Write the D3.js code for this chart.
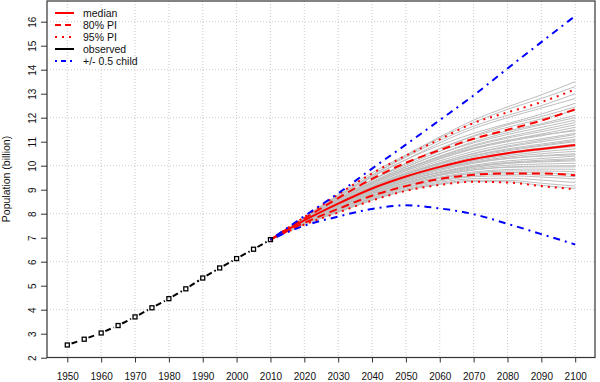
<!DOCTYPE html>
<html><head><meta charset="utf-8">
<script src="https://cdn.jsdelivr.net/npm/d3@7"></script>
<style>html,body{margin:0;padding:0;background:#fff}svg{display:block;font-family:"Liberation Sans",Arial,sans-serif}</style>
</head><body><svg id="c" width="600" height="382"></svg>
<script>
// ---- data ----
const obsYears = [1950,1955,1960,1965,1970,1975,1980,1985,1990,1995,2000,2005,2010];
const observed = [2.53,2.77,3.03,3.34,3.70,4.08,4.46,4.87,5.32,5.74,6.13,6.52,6.92];
const projYears = [2010,2020,2030,2040,2050,2060,2070,2080,2090,2100];
const median  = [6.92,7.72,8.42,9.05,9.55,9.95,10.28,10.52,10.70,10.86];
const pi80up  = [6.92,7.80,8.65,9.45,10.12,10.65,11.12,11.50,11.88,12.35];
const pi80lo  = [6.92,7.62,8.20,8.75,9.15,9.45,9.62,9.68,9.68,9.60];
const pi95up  = [6.92,7.86,8.80,9.68,10.42,11.10,11.78,12.22,12.65,13.18];
const pi95lo  = [6.92,7.55,8.05,8.55,8.95,9.20,9.33,9.30,9.15,9.02];
const childHigh = [6.92,7.90,8.85,9.88,10.88,11.90,12.93,14.05,15.15,16.24];
const childLow  = [6.92,7.50,7.88,8.20,8.35,8.22,7.98,7.58,7.15,6.72];
const trajStart = 6.92;
// grey trajectories, values for 2020..2100
const trajectories = [
 [7.86,8.80,9.70,10.45,11.20,11.90,12.45,12.95,13.50],
 [7.83,8.75,9.62,10.40,11.15,11.80,12.35,12.80,13.30],
 [7.85,8.74,9.60,10.35,11.05,11.65,12.10,12.50,13.00],
 [7.80,8.68,9.52,10.25,10.95,11.55,12.00,12.40,12.80],
 [7.83,8.70,9.55,10.25,10.85,11.35,11.75,12.15,12.60],
 [7.80,8.62,9.42,10.10,10.72,11.25,11.70,12.05,12.45],
 [7.79,8.60,9.40,10.08,10.70,11.22,11.60,11.95,12.30],
 [7.80,8.63,9.40,10.02,10.60,11.10,11.45,11.75,12.10],
 [7.77,8.57,9.33,9.95,10.50,11.00,11.38,11.70,12.00],
 [7.78,8.58,9.32,9.95,10.50,10.95,11.30,11.60,11.90],
 [7.76,8.54,9.28,9.88,10.40,10.86,11.20,11.50,11.80],
 [7.77,8.55,9.28,9.86,10.38,10.82,11.15,11.42,11.70],
 [7.75,8.52,9.22,9.80,10.30,10.72,11.05,11.32,11.60],
 [7.76,8.52,9.22,9.78,10.28,10.70,11.00,11.25,11.50],
 [7.77,8.55,9.27,9.85,10.35,10.75,11.05,11.28,11.45],
 [7.74,8.48,9.16,9.72,10.20,10.60,10.90,11.12,11.35],
 [7.73,8.46,9.12,9.66,10.12,10.52,10.82,11.06,11.30],
 [7.75,8.48,9.15,9.68,10.12,10.50,10.78,11.00,11.20],
 [7.72,8.44,9.10,9.62,10.06,10.43,10.70,10.90,11.10],
 [7.74,8.47,9.12,9.65,10.08,10.42,10.66,10.85,11.05],
 [7.71,8.42,9.06,9.58,10.00,10.36,10.62,10.82,11.00],
 [7.73,8.43,9.07,9.57,9.98,10.30,10.55,10.74,10.90],
 [7.71,8.40,9.02,9.52,9.92,10.24,10.48,10.66,10.80],
 [7.70,8.39,9.00,9.50,9.90,10.20,10.42,10.58,10.70],
 [7.69,8.36,8.97,9.46,9.85,10.15,10.36,10.50,10.60],
 [7.68,8.34,8.94,9.42,9.80,10.10,10.30,10.42,10.50],
 [7.70,8.38,8.99,9.48,9.86,10.14,10.30,10.40,10.45],
 [7.67,8.32,8.91,9.38,9.74,10.02,10.20,10.30,10.40],
 [7.67,8.31,8.89,9.36,9.72,9.98,10.14,10.23,10.30],
 [7.65,8.28,8.85,9.30,9.66,9.93,10.10,10.18,10.25],
 [7.68,8.33,8.92,9.38,9.72,9.96,10.10,10.16,10.20],
 [7.65,8.27,8.84,9.30,9.64,9.88,10.02,10.07,10.10],
 [7.64,8.25,8.81,9.26,9.60,9.83,9.95,9.98,10.00],
 [7.66,8.28,8.84,9.28,9.60,9.82,9.93,9.95,9.95],
 [7.62,8.21,8.76,9.21,9.53,9.74,9.84,9.86,9.85],
 [7.61,8.19,8.73,9.17,9.49,9.69,9.78,9.78,9.75],
 [7.63,8.20,8.74,9.17,9.48,9.66,9.72,9.70,9.65],
 [7.59,8.15,8.68,9.11,9.41,9.59,9.65,9.61,9.55],
 [7.58,8.13,8.65,9.08,9.37,9.54,9.58,9.53,9.45],
 [7.57,8.10,8.62,9.03,9.31,9.46,9.48,9.40,9.30],
 [7.56,8.07,8.58,8.99,9.26,9.39,9.39,9.27,9.15],
 [7.55,8.06,8.56,8.96,9.22,9.34,9.33,9.18,9.05]
];
const xTicks = d3.range(1950, 2101, 10);
const yTicks = d3.range(2, 17, 1);
const yGrid = [4,6,8,10,12,14,16];
const legendLabels = ["median","80% PI","95% PI","observed","+/- 0.5 child"];

// ---- drawing ----
const svg = d3.select("#c");
const box = {l:47, r:595, t:1, b:357.5};
const x = d3.scaleLinear().domain([1950,2100]).range([67.3,575.2]);
const y = d3.scaleLinear().domain([2,16]).range([357.7,21.7]);
const gridCol = "#c9c9d0";

// grid
svg.append("g").selectAll("line").data(xTicks).join("line")
  .attr("x1",d=>x(d)).attr("x2",d=>x(d)).attr("y1",box.t).attr("y2",box.b)
  .attr("stroke",gridCol).attr("stroke-dasharray","1,2");
svg.append("g").selectAll("line").data(yGrid).join("line")
  .attr("x1",box.l).attr("x2",box.r).attr("y1",d=>y(d)).attr("y2",d=>y(d))
  .attr("stroke",gridCol).attr("stroke-dasharray","1,2");

const line = d3.line().x(d=>x(d[0])).y(d=>y(d[1])).curve(d3.curveMonotoneX);
const pts = vals => projYears.map((yr,i)=>[yr, vals[i]]);

// grey trajectories
svg.append("g").selectAll("path").data(trajectories).join("path")
  .attr("d", t => line(pts([trajStart].concat(t))))
  .attr("fill","none").attr("stroke","#bebebe").attr("stroke-width",1);

// red PI and median
const red = "#ff0000", blue = "#0000ff";
const reds = [
  {v:pi95up, dash:"2,5"},{v:pi95lo, dash:"2,5"},
  {v:pi80up, dash:"8,5"},{v:pi80lo, dash:"8,5"},
  {v:median, dash:null}
];
svg.append("g").selectAll("path").data(reds).join("path")
  .attr("d", d => line(pts(d.v)))
  .attr("fill","none").attr("stroke",red).attr("stroke-width",2)
  .attr("stroke-dasharray", d=>d.dash);

// blue +/- 0.5 child
svg.append("g").selectAll("path").data([childHigh, childLow]).join("path")
  .attr("d", d => line(pts(d)))
  .attr("fill","none").attr("stroke",blue).attr("stroke-width",2)
  .attr("stroke-dasharray","2,5,7,5");

// observed (type "b": segments with gaps around points)
const obs = obsYears.map((yr,i)=>[x(yr), y(observed[i])]);
const segs = d3.pairs(obs).map(([a,b])=>{
  const dx=b[0]-a[0], dy=b[1]-a[1], L=Math.hypot(dx,dy), g=4.5;
  return [a[0]+dx/L*g, a[1]+dy/L*g, b[0]-dx/L*g, b[1]-dy/L*g];
});
svg.append("g").selectAll("line").data(segs).join("line")
  .attr("x1",d=>d[0]).attr("y1",d=>d[1]).attr("x2",d=>d[2]).attr("y2",d=>d[3])
  .attr("stroke","#000").attr("stroke-width",2).attr("stroke-dasharray","6,3");
svg.append("g").selectAll("rect").data(obs).join("rect")
  .attr("x",d=>d[0]-2).attr("y",d=>d[1]-2).attr("width",4).attr("height",4)
  .attr("fill","none").attr("stroke","#000").attr("stroke-width",1.3);

// box
svg.append("rect").attr("x",box.l).attr("y",box.t).attr("width",box.r-box.l).attr("height",box.b-box.t)
  .attr("fill","none").attr("stroke","#333").attr("stroke-width",1.2);

// x axis
const xa = svg.append("g").attr("transform",`translate(0,${box.b})`)
  .call(d3.axisBottom(x).tickValues(xTicks).tickFormat(d3.format("d")).tickSize(5).tickPadding(10));
xa.select(".domain").remove();
xa.selectAll("text").attr("font-size",10).attr("fill","#111").attr("font-family","Liberation Sans, Arial, sans-serif");
xa.selectAll("line").attr("stroke","#333");

// y axis
const ya = svg.append("g").attr("transform",`translate(${box.l},0)`)
  .call(d3.axisLeft(y).tickValues(yTicks).tickFormat(d3.format("d")).tickSize(6));
ya.select(".domain").remove();
ya.selectAll("line").attr("stroke","#333");
ya.selectAll("text").attr("font-size",10).attr("fill","#111").attr("font-family","Liberation Sans, Arial, sans-serif")
  .attr("text-anchor","middle").attr("dy",null).attr("x",null)
  .attr("transform","translate(-11,0) rotate(-90)").attr("dy","-0.05em");

svg.append("text").attr("transform",`translate(10,179) rotate(-90)`)
  .attr("text-anchor","middle").attr("font-size",10.5).attr("fill","#111")
  .text("Population (billion)");

// legend
const legStyles = [
  {c:red, dash:null},{c:red, dash:"6,4"},{c:red, dash:"2,5"},{c:"#000", dash:null},{c:blue, dash:"2,4,5,4"}
];
const lg = svg.append("g").selectAll("g").data(legendLabels).join("g")
  .attr("transform",(d,i)=>`translate(0,${13+i*12})`);
lg.append("line").attr("x1",55).attr("x2",74).attr("y1",0).attr("y2",0)
  .attr("stroke",(d,i)=>legStyles[i].c).attr("stroke-width",2)
  .attr("stroke-dasharray",(d,i)=>legStyles[i].dash);
lg.append("text").attr("x",83).attr("y",4).attr("font-size",10.5).attr("fill","#111").text(d=>d);
</script></body></html>
